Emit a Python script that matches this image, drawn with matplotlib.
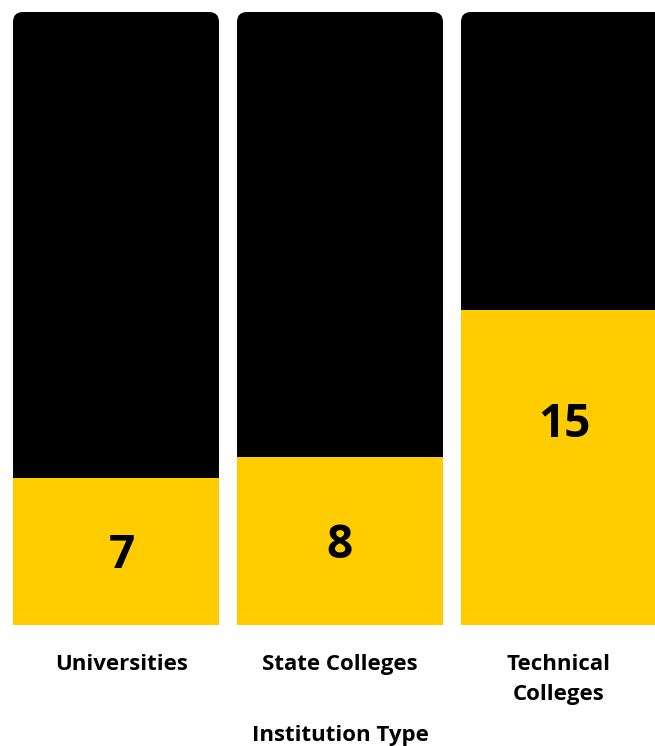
import matplotlib
matplotlib.use("Agg")
import matplotlib.pyplot as plt
from matplotlib.patches import FancyBboxPatch

# institution counts
categories = ["Universities", "State Colleges", "Technical\nColleges"]
counts = [7, 8, 15]
total = 29.15  # height of the dark background bars
label_y = [3.3, 3.8, 9.55]

yellow = "#FFCC00"
font = "Open Sans"

fig = plt.figure(figsize=(6.55, 7.46), dpi=100)
# axes spans the bar area; px per unit ~224 in x, ~21 in y
ax = fig.add_axes([0, 121 / 746, 1, 613 / 746])
x0 = -116 / 224
ax.set_xlim(x0, x0 + 655 / 224)
ax.set_ylim(0, total)

width = 206 / 224
x_px = 224
y_px = 613 / total
r = 10 / x_px
for i in range(len(counts)):
    bg = FancyBboxPatch((i - width / 2, 0), width, total,
                        boxstyle=f"round,pad=0,rounding_size={r}",
                        mutation_aspect=x_px / y_px,
                        facecolor="black", edgecolor="none", zorder=1)
    ax.add_patch(bg)
ax.bar(range(len(counts)), counts, width=width, color=yellow, zorder=2)

for i, val in enumerate(counts):
    ax.text(i + (0.025 if i == 0 else 0), label_y[i], str(val),
            ha="center", va="center",
            fontsize=33, fontweight="bold", family=font, zorder=3)

# category labels sit slightly off the bar centres
ax.set_xticks([0.027, 1, 1.975])
ax.set_xticklabels(categories, fontsize=16, fontweight="bold", family=font,
                   linespacing=1.55)
ax.tick_params(axis="x", length=0, pad=21)
ax.set_yticks([])
for s in ax.spines.values():
    s.set_visible(False)

fig.text(340 / 655, 1 - 736 / 746, "Institution Type", ha="center", va="center",
         fontsize=16, fontweight="bold", family=font)

fig.savefig("out.png", dpi=100)
